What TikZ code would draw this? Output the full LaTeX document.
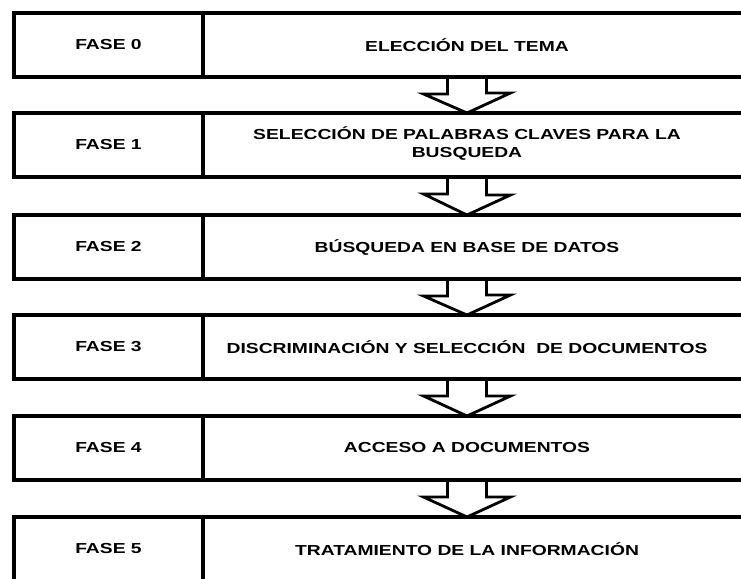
\documentclass[tikz,border=0pt]{standalone}
\usepackage{fontspec}
\setmainfont{Liberation Sans}[FakeStretch=1.33]
\usetikzlibrary{calc}

\begin{document}
\begin{tikzpicture}[x=1pt,y=-1pt,font=\bfseries\fontsize{14.5}{18}\selectfont,
    fase/.style={draw,line width=3.2pt,minimum height=64pt,inner sep=0pt,outer sep=0pt,anchor=west},
    flecha/.style={draw,line width=2.8pt,line join=miter}]
    \useasboundingbox (0,0) rectangle (741,578);
    \clip (0,0) rectangle (741,578);
    % filas de fases
    \node[fase,minimum width=189pt] (f0) at (14,45) {FASE 0};
    \node[fase,minimum width=557pt] (t0) at (f0.east) {};
    \node (l0) at (467,45) {ELECCIÓN DEL TEMA};
    \node[fase,minimum width=189pt] (f1) at (14,145) {FASE 1};
    \node[fase,minimum width=557pt] (t1) at (f1.east) {};
    \node[align=center] (l1) at (467,144) {SELECCIÓN DE PALABRAS CLAVES PARA LA\\BUSQUEDA};
    \node[fase,minimum width=189pt] (f2) at (14,247) {FASE 2};
    \node[fase,minimum width=557pt] (t2) at (f2.east) {};
    \node (l2) at (467,247) {BÚSQUEDA EN BASE DE DATOS};
    \node[fase,minimum width=189pt] (f3) at (14,347) {FASE 3};
    \node[fase,minimum width=557pt] (t3) at (f3.east) {};
    \node (l3) at (467,347) {DISCRIMINACIÓN Y SELECCIÓN~ DE DOCUMENTOS};
    \node[fase,minimum width=189pt] (f4) at (14,448) {FASE 4};
    \node[fase,minimum width=557pt] (t4) at (f4.east) {};
    \node (l4) at (467,448) {ACCESO A DOCUMENTOS};
    \node[fase,minimum width=189pt] (f5) at (14,549) {FASE 5};
    \node[fase,minimum width=557pt] (t5) at (f5.east) {};
    \node (l5) at (467,549) {TRATAMIENTO DE LA INFORMACIÓN};
    % flechas entre fases
    \draw[flecha] ($(t0.south -| l0)+(-19.5,0)$) -- ++(0,17) -- ++(-24,0) -- (t1.north -| l1) -- ++(43.5,-20) -- ++(-24,0) -- ($(t0.south -| l0)+(19.5,0)$);
    \draw[flecha] ($(t1.south -| l1)+(-19.5,0)$) -- ++(0,17) -- ++(-24,0) -- (t2.north -| l2) -- ++(43.5,-20) -- ++(-24,0) -- ($(t1.south -| l1)+(19.5,0)$);
    \draw[flecha] ($(t2.south -| l2)+(-19.5,0)$) -- ++(0,17) -- ++(-24,0) -- (t3.north -| l3) -- ++(43.5,-20) -- ++(-24,0) -- ($(t2.south -| l2)+(19.5,0)$);
    \draw[flecha] ($(t3.south -| l3)+(-19.5,0)$) -- ++(0,17) -- ++(-24,0) -- (t4.north -| l4) -- ++(43.5,-20) -- ++(-24,0) -- ($(t3.south -| l3)+(19.5,0)$);
    \draw[flecha] ($(t4.south -| l4)+(-19.5,0)$) -- ++(0,17) -- ++(-24,0) -- (t5.north -| l5) -- ++(43.5,-20) -- ++(-24,0) -- ($(t4.south -| l4)+(19.5,0)$);
  \end{tikzpicture}
\end{document}
